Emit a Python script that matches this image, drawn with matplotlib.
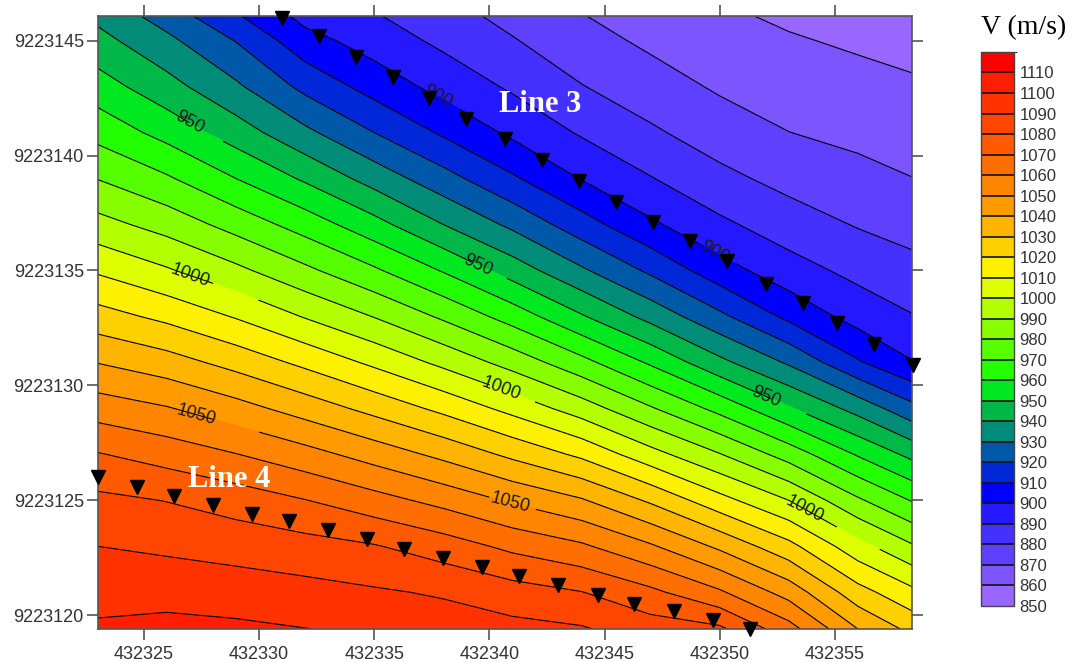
import numpy as np
import matplotlib
matplotlib.use("Agg")
import matplotlib.pyplot as plt
from matplotlib.colors import ListedColormap, BoundaryNorm
from matplotlib.ticker import FormatStrFormatter

plt.rcParams['font.family'] = ['Liberation Sans', 'DejaVu Sans']

# ---------------- data -----------------------------------------------------

# grid nodes (easting, northing) and velocity V (m/s), rows from north to south
x_nodes = [432323.0, 432326.0, 432329.0, 432332.0, 432335.0, 432338.0, 432341.0,
           432344.0, 432347.0, 432350.0, 432353.0, 432356.0, 432358.4]
y_nodes = [9223146.05, 9223145.0, 9223143.0, 9223141.0, 9223139.0, 9223137.0,
           9223135.0, 9223133.0, 9223131.0, 9223129.0, 9223127.0, 9223125.0,
           9223123.0, 9223121.0, 9223119.4]

v_grid = [
    [937.7, 925.6, 911.3, 897.0, 890.9, 883.9, 877.1, 870.4, 865.9, 861.6, 858.5, 856.0, 855.0],
    [943.3, 932.4, 919.6, 903.7, 895.4, 887.8, 880.7, 873.7, 868.1, 862.7, 860.9, 858.6, 856.8],
    [954.5, 943.7, 931.7, 917.3, 906.0, 896.6, 888.5, 880.4, 874.4, 868.7, 865.5, 863.1, 861.3],
    [966.6, 956.5, 945.0, 932.3, 920.0, 908.5, 898.0, 888.9, 881.5, 875.1, 870.1, 867.6, 865.7],
    [979.7, 971.3, 960.0, 948.5, 935.9, 923.8, 911.4, 899.5, 890.5, 882.6, 876.9, 872.9, 870.1],
    [993.5, 986.1, 976.2, 965.6, 953.5, 940.0, 927.8, 914.3, 901.7, 892.0, 884.8, 879.3, 876.3],
    [1008.7, 1001.1, 992.4, 982.2, 971.5, 959.2, 945.4, 931.5, 918.1, 904.1, 894.1, 887.2, 882.9],
    [1024.0, 1017.5, 1009.2, 999.3, 989.6, 978.3, 965.7, 951.0, 936.7, 922.2, 907.6, 896.0, 890.4],
    [1039.7, 1034.3, 1026.5, 1017.6, 1007.9, 997.5, 986.1, 973.2, 958.5, 942.6, 928.6, 911.1, 900.4],
    [1055.3, 1050.7, 1043.8, 1035.6, 1026.8, 1017.4, 1006.8, 995.0, 981.0, 966.8, 951.0, 936.3, 922.8],
    [1070.6, 1065.8, 1060.3, 1053.7, 1045.8, 1037.4, 1027.7, 1017.9, 1003.7, 990.5, 975.6, 959.0, 947.0],
    [1082.3, 1079.7, 1075.5, 1070.3, 1063.8, 1056.8, 1048.6, 1041.0, 1028.4, 1013.5, 1000.0, 981.5, 969.1],
    [1090.0, 1088.2, 1086.2, 1083.8, 1080.7, 1075.0, 1067.6, 1061.6, 1051.3, 1038.0, 1023.0, 1003.6, 990.9],
    [1096.5, 1096.4, 1095.0, 1093.3, 1091.2, 1088.9, 1084.3, 1080.3, 1072.4, 1061.4, 1046.0, 1023.8, 1012.3],
    [1101.5, 1103.0, 1102.0, 1100.2, 1098.0, 1095.0, 1093.0, 1091.0, 1085.0, 1082.0, 1064.0, 1040.0, 1027.0],
]

# geophone stations
line3_x = [432331.0, 432332.6, 432334.2, 432335.8, 432337.4, 432339.0, 432340.7, 432342.3, 432343.9,
           432345.5, 432347.1, 432348.7, 432350.3, 432352.0, 432353.6, 432355.1, 432356.7, 432358.4]
line3_y = [9223146.0, 9223145.2, 9223144.3, 9223143.4, 9223142.5, 9223141.6, 9223140.7, 9223139.8, 9223138.9,
           9223138.0, 9223137.1, 9223136.3, 9223135.4, 9223134.4, 9223133.6, 9223132.7, 9223131.8, 9223130.9]
line4_x = [432323.0, 432324.7, 432326.3, 432328.0, 432329.7, 432331.3, 432333.0, 432334.7, 432336.3,
           432338.0, 432339.7, 432341.3, 432343.0, 432344.7, 432346.3, 432348.0, 432349.7, 432351.3]
line4_y = [9223126.0, 9223125.6, 9223125.2, 9223124.8, 9223124.4, 9223124.1, 9223123.7, 9223123.3, 9223122.9,
           9223122.5, 9223122.1, 9223121.7, 9223121.3, 9223120.9, 9223120.5, 9223120.2, 9223119.8, 9223119.4]

levels = list(range(850, 1121, 10))
labelled = [900, 950, 1000, 1050]
colours = ['#9966ff', '#7c55ff', '#6040ff', '#4430ff', '#2418ff', '#0000ff', '#0028d8',
           '#0058a8', '#008c78', '#00b848', '#00e820', '#22ff00', '#55ff00', '#88ff00',
           '#b4ff00', '#ddff00', '#fff000', '#ffd000', '#ffb400', '#ff9a00', '#ff8400',
           '#ff6e00', '#ff5a00', '#ff4600', '#ff3200', '#ff1e00', '#ff0000']

x_ticks = [432325, 432330, 432335, 432340, 432345, 432350, 432355]
y_ticks = [9223120, 9223125, 9223130, 9223135, 9223140, 9223145]
cbar_labels = list(range(850, 1111, 10))

# where the contour labels sit
label_pos = [(432337.7, 9223142.5), (432349.7, 9223135.7),
             (432326.9, 9223141.3), (432339.5, 9223135.2), (432352.0, 9223129.5),
             (432327.0, 9223134.8), (432340.5, 9223129.8), (432353.7, 9223124.6),
             (432327.3, 9223128.8), (432340.9, 9223124.9)]

# ---------------- plot ------------------------------------------------------

fig = plt.figure(figsize=(10.77, 6.62), dpi=100)
ax = fig.add_axes([0.0907, 0.0498, 0.7564, 0.9253])

cmap = ListedColormap(colours)
norm = BoundaryNorm(levels, cmap.N)
X, Y = np.meshgrid(x_nodes, y_nodes)
V = np.array(v_grid)

cf = ax.contourf(X, Y, V, levels=levels, cmap=cmap, norm=norm)
plain = [v for v in levels[1:-1] if v not in labelled]
ax.contour(X, Y, V, levels=plain, colors='k', linewidths=0.8)
cs = ax.contour(X, Y, V, levels=labelled, colors='k', linewidths=0.8)
ax.clabel(cs, manual=label_pos, inline=True, fmt='%d',
          fontsize=13, colors='#1a1a1a', inline_spacing=4)

ax.plot(line3_x, line3_y, linestyle='none', marker='v', ms=9.5, color='k', clip_on=False, zorder=5)
ax.plot(line4_x, line4_y, linestyle='none', marker='v', ms=9.5, color='k', clip_on=False, zorder=5)

ax.text(432342.2, 9223142.2, 'Line 3', color='white', fontsize=22, fontweight='bold',
        family='Liberation Serif', ha='center', va='center', zorder=6)
ax.text(432328.7, 9223125.9, 'Line 4', color='white', fontsize=22, fontweight='bold',
        family='Liberation Serif', ha='center', va='center', zorder=6)

ax.set_xlim(432323.0, 432358.36)
ax.set_ylim(9223119.4, 9223146.05)
ax.set_xticks(x_ticks)
ax.set_yticks(y_ticks)
ax.xaxis.set_major_formatter(FormatStrFormatter('%d'))
ax.yaxis.set_major_formatter(FormatStrFormatter('%d'))
ax.tick_params(direction='out', length=8, width=1.2, color='#555555', labelsize=13,
               labelcolor='#333333', top=True, right=True, labeltop=False, labelright=False)
ax.tick_params(axis='x', pad=4)
ax.tick_params(axis='y', pad=2)
for s in ax.spines.values():
    s.set_color('#555555')
    s.set_linewidth(1.2)

# colour scale
cax = fig.add_axes([0.9109, 0.0846, 0.0306, 0.8369])
cb = fig.colorbar(cf, cax=cax, drawedges=True)
cb.set_ticks(cbar_labels)
cb.set_ticklabels([str(v) for v in cbar_labels])
cb.ax.tick_params(length=0, labelsize=12, labelcolor='#333333', pad=4)
cb.outline.set_edgecolor('#444444')
cb.outline.set_linewidth(1.0)
cb.dividers.set_color('#111111')
cb.dividers.set_linewidth(1.2)

fig.text(0.950, 0.958, 'V (m/s)', fontsize=20, family='Liberation Serif',
         ha='center', va='center')

fig.savefig('out.png', dpi=100)
